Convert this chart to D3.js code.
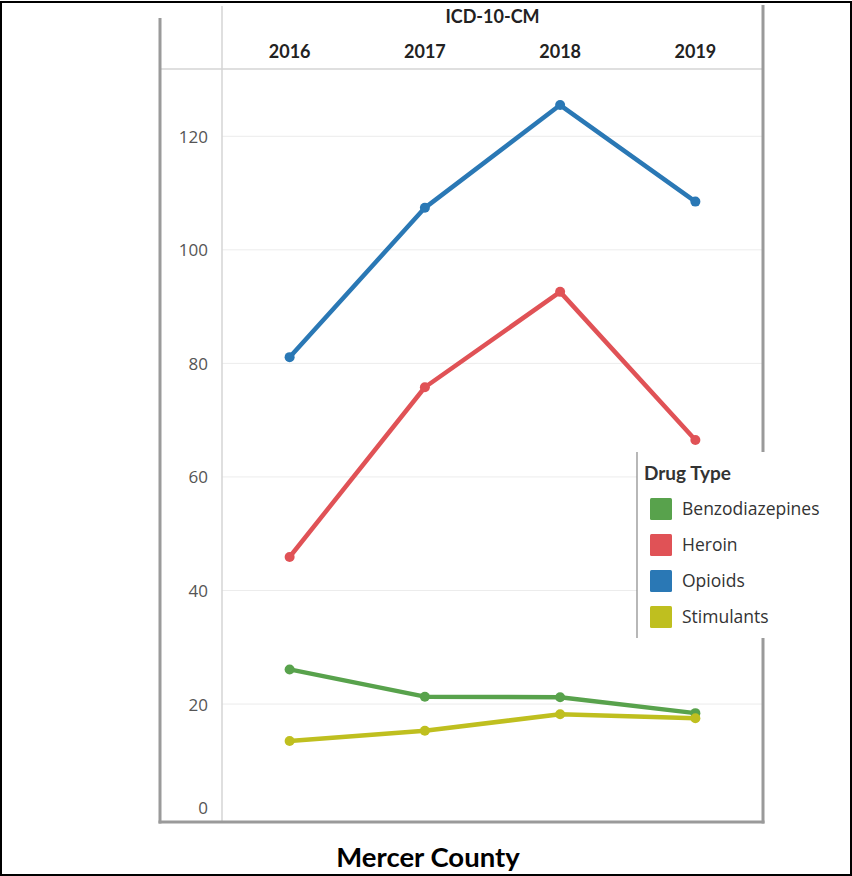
<!DOCTYPE html>
<html>
<head>
<meta charset="utf-8">
<script src="https://cdn.jsdelivr.net/npm/d3@7"></script>
<style>
  html, body { margin: 0; padding: 0; background: #fff; }
  svg { display: block; }
</style>
</head>
<body>
<script>
// Drug-related ED visits by year, Mercer County (ICD-10-CM)
const years = ["2016", "2017", "2018", "2019"];
const drugTypes = ["Benzodiazepines", "Heroin", "Opioids", "Stimulants"];
const benzodiazepines = [26.1, 21.3, 21.2, 18.4];
const heroin = [45.9, 75.8, 92.6, 66.5];
const opioids = [81.1, 107.4, 125.5, 108.5];
const stimulants = [13.5, 15.3, 18.2, 17.5];
const yTicks = [0, 20, 40, 60, 80, 100, 120];
const colors = ["#58a24c", "#e05256", "#2a78b5", "#bfbf1f"];

const seriesValues = [benzodiazepines, heroin, opioids, stimulants];
const series = drugTypes.map((name, i) => ({
  name,
  color: colors[i],
  values: years.map((y, j) => ({ year: y, value: seriesValues[i][j] }))
}));

const W = 852, H = 876;
const svg = d3.select("body").append("svg").attr("width", W).attr("height", H);

// outer black frame
svg.append("rect").attr("x", 1).attr("y", 2).attr("width", W - 2).attr("height", H - 3)
  .attr("fill", "#fff").attr("stroke", "#000").attr("stroke-width", 2);

const plotL = 222, plotR = 763, plotT = 69, axisBottom = 822;
const x = d3.scaleBand().domain(years).range([plotL, plotR]);
const y = d3.scaleLinear().domain([0, 120]).range([817.6, 136.3]);

// gridlines
svg.append("g").selectAll("line").data(yTicks.filter(d => d > 0)).join("line")
  .attr("x1", plotL).attr("x2", plotR)
  .attr("y1", d => y(d)).attr("y2", d => y(d))
  .attr("stroke", "#ececec").attr("stroke-width", 1);

// header separator and plot-left divider
svg.append("line").attr("x1", 160).attr("x2", plotR).attr("y1", plotT).attr("y2", plotT)
  .attr("stroke", "#d4d4d4").attr("stroke-width", 1.5);
svg.append("line").attr("x1", plotL).attr("x2", plotL).attr("y1", 6).attr("y2", axisBottom)
  .attr("stroke", "#d4d4d4").attr("stroke-width", 1.5);

// gray frame around the chart pane
svg.append("line").attr("x1", 160).attr("x2", 160).attr("y1", 18).attr("y2", axisBottom + 1.5)
  .attr("stroke", "#9a9a9a").attr("stroke-width", 3);
svg.append("line").attr("x1", 158.5).attr("x2", plotR + 1.5).attr("y1", axisBottom).attr("y2", axisBottom)
  .attr("stroke", "#9a9a9a").attr("stroke-width", 3);
svg.append("line").attr("x1", plotR).attr("x2", plotR).attr("y1", 5).attr("y2", axisBottom + 1.5)
  .attr("stroke", "#9a9a9a").attr("stroke-width", 3);

// y axis labels
const yAxis = d3.axisLeft(y).tickValues(yTicks).tickSize(0).tickPadding(0);
const yg = svg.append("g").attr("transform", "translate(208,0)").call(yAxis);
yg.select(".domain").remove();
yg.selectAll("text")
  .attr("font-family", "'Open Sans', sans-serif").attr("font-size", 17)
  .attr("fill", "#555").attr("dy", "0.35em")
  .attr("transform", d => d === 0 ? "translate(0,-10)" : null);

// column header
svg.append("text").attr("x", (plotL + plotR) / 2).attr("y", 23)
  .attr("text-anchor", "middle").attr("font-family", "Lato, 'Open Sans', sans-serif")
  .attr("font-weight", "bold").attr("font-size", 18).attr("fill", "#222").text("ICD-10-CM");
const xAxis = d3.axisTop(x).tickSize(0).tickPadding(0);
const xg = svg.append("g").attr("transform", "translate(0,58)").call(xAxis);
xg.select(".domain").remove();
xg.selectAll("text").attr("font-family", "Lato, 'Open Sans', sans-serif")
  .attr("font-weight", "bold").attr("font-size", 18).attr("fill", "#222");

// lines and markers
const line = d3.line().x(d => x(d.year) + x.bandwidth() / 2).y(d => y(d.value));
const order = [2, 1, 0, 3];
order.forEach(i => {
  const s = series[i];
  const g = svg.append("g");
  g.append("path").datum(s.values).attr("d", line)
    .attr("fill", "none").attr("stroke", s.color).attr("stroke-width", 4.5)
    .attr("stroke-linejoin", "round");
  g.selectAll("circle").data(s.values).join("circle")
    .attr("cx", d => x(d.year) + x.bandwidth() / 2).attr("cy", d => y(d.value))
    .attr("r", 5).attr("fill", s.color);
});

// legend
const lg = svg.append("g");
lg.append("rect").attr("x", 637).attr("y", 452).attr("width", 135).attr("height", 186).attr("fill", "#fff");
lg.append("line").attr("x1", 637).attr("x2", 637).attr("y1", 452).attr("y2", 638)
  .attr("stroke", "#888").attr("stroke-width", 1.2);
lg.append("text").attr("x", 644).attr("y", 480).attr("font-family", "Lato, 'Open Sans', sans-serif")
  .attr("font-weight", "bold").attr("font-size", 19).attr("fill", "#333").text("Drug Type");
const items = lg.selectAll("g.item").data(series).join("g").attr("class", "item")
  .attr("transform", (d, i) => `translate(650,${498 + i * 36})`);
items.append("rect").attr("width", 22).attr("height", 22).attr("rx", 1.5).attr("fill", d => d.color);
items.append("text").attr("x", 32).attr("y", 11).attr("dy", "0.35em")
  .attr("font-family", "'Open Sans', sans-serif").attr("font-size", 17.5).attr("fill", "#333")
  .text(d => d.name);

// title
svg.append("text").attr("x", 428).attr("y", 867).attr("text-anchor", "middle")
  .attr("font-family", "Lato, 'Open Sans', sans-serif").attr("font-weight", "bold")
  .attr("font-size", 27.5).attr("fill", "#000").text("Mercer County");
</script>
</body>
</html>
